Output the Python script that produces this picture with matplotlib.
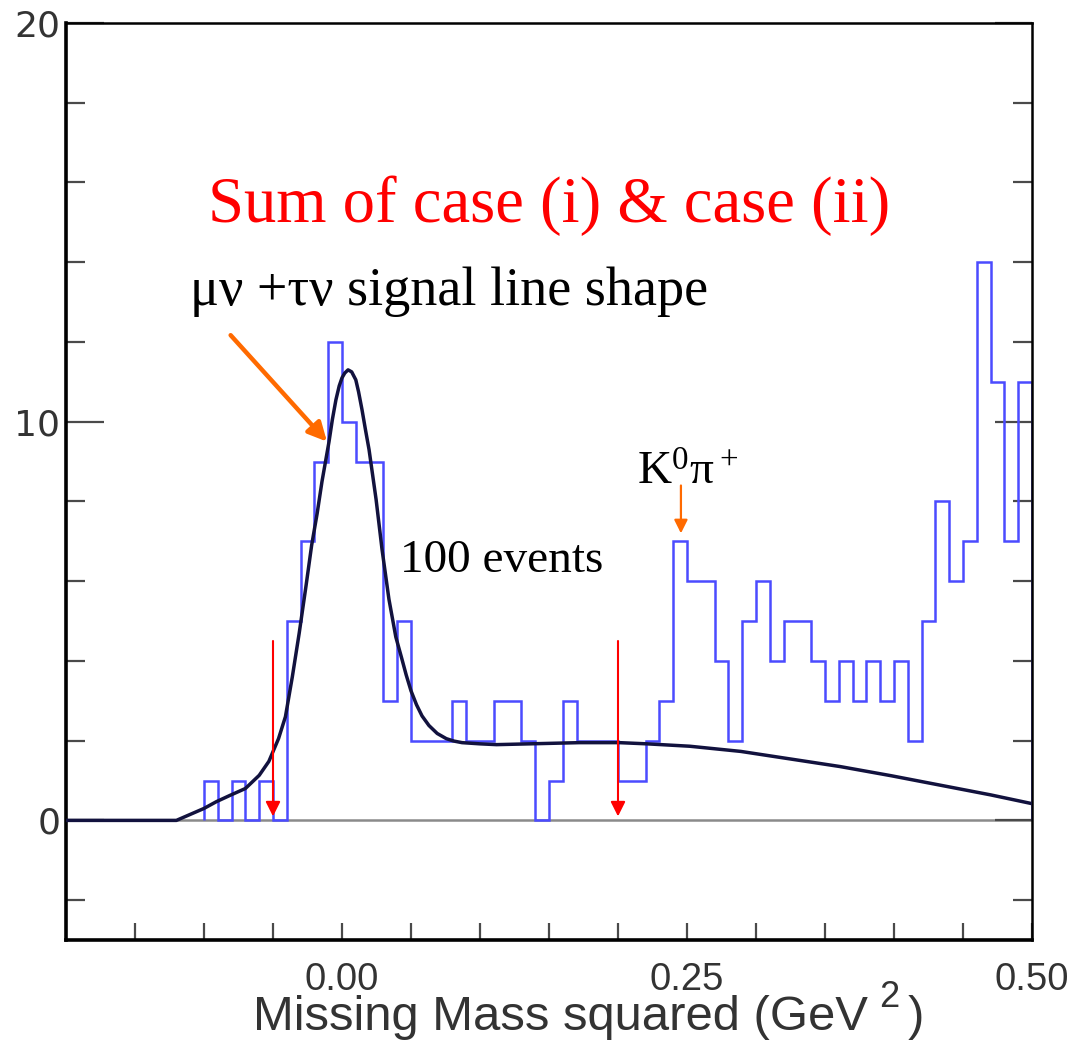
import numpy as np
import matplotlib
matplotlib.use("Agg")
import matplotlib.pyplot as plt

# histogram: 0.01 GeV^2 bins from -0.10 to 0.50
bin_edges = np.round(np.arange(-0.10, 0.505, 0.01), 2)
counts = [1, 0, 1, 0, 1, 0, 5, 7, 9, 12,
          10, 9, 9, 3, 5, 2, 2, 2, 3, 2,
          2, 3, 3, 2, 0, 1, 3, 2, 2, 2,
          1, 1, 2, 3, 7, 6, 6, 4, 2, 5,
          6, 4, 5, 5, 4, 3, 4, 3, 4, 3,
          4, 2, 5, 8, 6, 7, 14, 11, 7, 11]

# signal line shape
fit_x = [-0.20, -0.12, -0.10, -0.091, -0.081, -0.070, -0.060, -0.053, -0.046,
         -0.041, -0.036, -0.031, -0.026, -0.022, -0.018, -0.0145, -0.0094, -0.007,
         -0.0044, -0.002, 0.0, 0.002, 0.0044, 0.007, 0.010, 0.012, 0.0145, 0.017,
         0.0196, 0.0247, 0.029, 0.034, 0.039, 0.043, 0.0465, 0.050, 0.054, 0.058,
         0.063, 0.069, 0.0756, 0.081, 0.087, 0.100, 0.112, 0.136,
         0.172, 0.201, 0.221, 0.252, 0.289, 0.325, 0.361, 0.398, 0.434,
         0.470, 0.500]
fit_y = [0, 0, 0.3, 0.47, 0.63, 0.8, 1.13, 1.48, 2.05,
         2.6, 3.6, 4.7, 5.9, 6.9, 7.7, 8.5, 9.5, 10.05,
         10.55, 10.9, 11.1, 11.22, 11.3, 11.25, 11.05, 10.75, 10.3, 9.8,
         9.3, 8.05, 6.8, 5.55, 4.6, 4.1, 3.65, 3.25, 2.9, 2.62,
         2.38, 2.18, 2.05, 1.99, 1.95, 1.92, 1.9, 1.92,
         1.95, 1.95, 1.92, 1.86, 1.73, 1.54, 1.35, 1.12, 0.88,
         0.64, 0.42]

cuts = [-0.05, 0.20]
kpi_x = 0.2456

fig = plt.figure(figsize=(10.79, 10.54), dpi=100)
ax = fig.add_axes([66/1079, 1-940/1054, (1032-66)/1079, (940-23)/1054])
ax.set_xlim(-0.2, 0.5)
ax.set_ylim(-3, 20)

ax.axhline(0, color='#8a8a8a', lw=1.8, zorder=1)
ax.stairs(counts, bin_edges, color='#4b4bff', lw=1.8, zorder=2)
ax.plot(fit_x, fit_y, color='#12123e', lw=2.5, zorder=3,
        solid_joinstyle='round')

# red cut arrows
for c in cuts:
    ax.annotate('', xy=(c, 0.1), xytext=(c, 4.5),
                arrowprops=dict(arrowstyle='-|>', color='#ff0000', lw=1.5,
                                mutation_scale=22, shrinkA=0, shrinkB=0))

# orange arrows
ax.annotate('', xy=(-0.0109, 9.5), xytext=(-0.0807, 12.17),
            arrowprops=dict(arrowstyle='-|>', color='#ff6a00', lw=3.2,
                            mutation_scale=28, shrinkA=0, shrinkB=0))
ax.annotate('', xy=(kpi_x, 7.2), xytext=(kpi_x, 8.4),
            arrowprops=dict(arrowstyle='-|>', color='#ff6a00', lw=1.6,
                            mutation_scale=20, shrinkA=0, shrinkB=0))

# ticks
ax.set_yticks([0, 10, 20])
ax.set_yticks(np.arange(-2, 20, 2), minor=True)
ax.set_xticks([0, 0.25, 0.5])
ax.set_xticks(np.arange(-0.15, 0.5, 0.05), minor=True)
ax.set_xticklabels(['0.00', '0.25', '0.50'])
ax.tick_params(axis='both', which='both', direction='in', color='#4a4a4a', width=1.6)
ax.tick_params(axis='y', which='both', right=True, labelcolor='#333333',
               labelsize=26, pad=4)
ax.tick_params(axis='y', which='major', length=27)
ax.tick_params(axis='y', which='minor', length=14)
ax.tick_params(axis='x', which='both', length=12, top=False, labelcolor='#333333',
               labelsize=27.5, pad=16)
for lab in ax.get_xticklabels():
    lab.set_family('Liberation Sans')
for lab in ax.get_yticklabels():
    lab.set_family('DejaVu Sans')

for s in ['left', 'bottom']:
    ax.spines[s].set_linewidth(2.6)
for s in ['top', 'right']:
    ax.spines[s].set_linewidth(1.8)

# x label with raised 2
t1 = fig.text(253/1079, 1-1030/1054, 'Missing Mass squared (GeV', family='Liberation Sans',
              fontsize=35.3, color='#333333', va='baseline', ha='left')
t2 = ax.annotate('2', xy=(1, 0.55), xycoords=t1, xytext=(8, 0), textcoords='offset points',
                 family='Liberation Sans', fontsize=26, color='#333333', va='bottom', ha='left')
ax.annotate(')', xy=(1, 0), xycoords=t1, xytext=(29, 0), textcoords='offset points',
            family='Liberation Sans', fontsize=35.3, color='#333333', va='bottom', ha='left')

# annotations
serif = 'Liberation Serif'
plt.rcParams['mathtext.fontset'] = 'custom'
plt.rcParams['mathtext.rm'] = serif
fig.text(549/1079, 1-222/1054, 'Sum of case (i) & case (ii)', family=serif,
         fontsize=46.5, color='#ff0000', ha='center', va='baseline')
fig.text(190/1079, 1-305/1054, 'μν +τν signal line shape', family=serif,
         fontsize=39, color='black', ha='left', va='baseline')
fig.text(400/1079, 1-572/1054, '100 events', family=serif,
         fontsize=34, color='black', ha='left', va='baseline')
fig.text(637/1079, 1-485/1054, r'$\mathrm{K^0π^+}$', family=serif,
         fontsize=34, color='black', ha='left', va='baseline')

fig.savefig('out.png', dpi=100)
